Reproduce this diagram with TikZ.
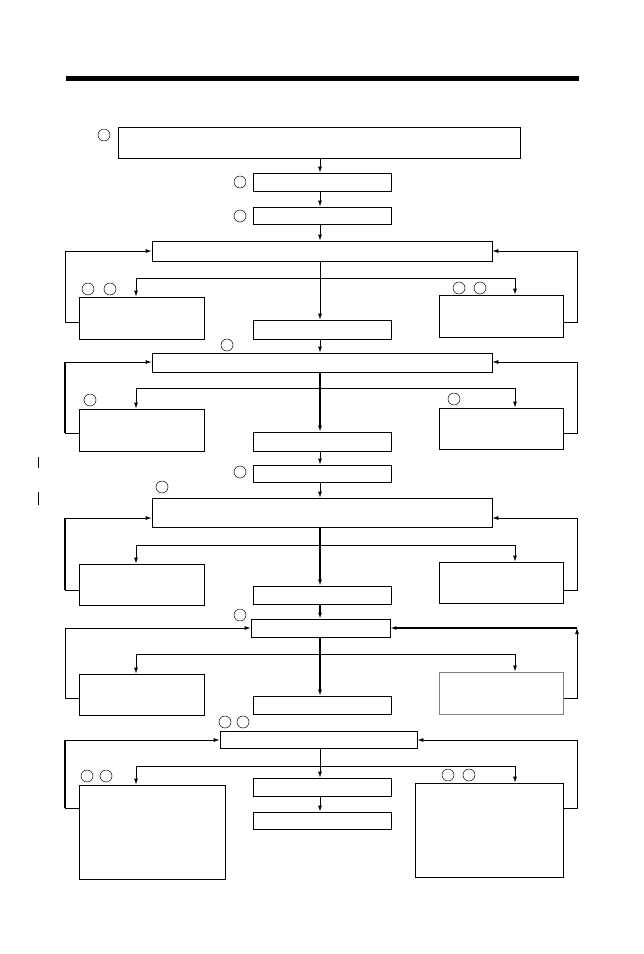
\documentclass[tikz,border=0pt]{standalone}
\usetikzlibrary{arrows.meta}
\begin{document}
\begin{tikzpicture}[x=1pt,y=-1pt,
 bx/.style={draw,line width=0.8pt},
 cr/.style={draw,line width=0.5pt,circle,minimum size=12pt,inner sep=0pt},
 ar/.style={-{Latex[length=6pt,width=4pt]},line width=0.8pt},
 thk/.style={line width=1.8pt}]
\useasboundingbox (0,0) rectangle (644,954);
\fill (66,76) rectangle (579,81);
\draw[line width=0.8pt] (38,457)--(38,468) (38,492)--(38,505);
% boxes
\node[bx,minimum width=402pt,minimum height=31pt] (A) at (319,142.5) {};
\node[cr] (cA) at (104,135) {};
\node[bx,minimum width=138pt,minimum height=18pt] (B) at (322,182) {};
\node[cr] (cB) at (240,182) {};
\node[bx,minimum width=138pt,minimum height=17pt] (C) at (322,215.5) {};
\node[cr] (cC) at (240,216) {};
\node[bx,minimum width=340pt,minimum height=20pt] (D1) at (322,251) {};
\node[bx,minimum width=125pt,minimum height=42pt] (L1) at (141.5,318) {};
\node[bx,minimum width=124pt,minimum height=42pt] (R1) at (501,316) {};
\node[bx,minimum width=138pt,minimum height=19pt] (M1) at (322,329.5) {};
\node[cr] at (88,289) {};\node[cr] at (110,289) {};
\node[cr] at (459,288) {};\node[cr] at (480,288) {};
\node[cr] at (227,345) {};
\node[bx,minimum width=340pt,minimum height=19pt] (D2) at (322,362.5) {};
\node[bx,minimum width=125pt,minimum height=42pt] (L2) at (141.5,430) {};
\node[bx,minimum width=124pt,minimum height=41pt] (R2) at (501,428.5) {};
\node[bx,minimum width=138pt,minimum height=19pt] (M2) at (322,441.5) {};
\node[cr] at (90,400) {};\node[cr] at (454,399) {};
\node[bx,minimum width=138pt,minimum height=17pt] (M3) at (322,473.5) {};
\node[cr] at (240,472) {};
\node[cr] at (162,487) {};
\node[bx,minimum width=340pt,minimum height=29pt] (D3) at (322,512.5) {};
\node[bx,minimum width=125pt,minimum height=41pt] (L3) at (141.5,584.5) {};
\node[bx,minimum width=124pt,minimum height=41pt] (R3) at (501,582.5) {};
\node[bx,minimum width=138pt,minimum height=18pt] (M4) at (322,595) {};
\node[bx,minimum width=139pt,minimum height=18pt] (D4) at (320.5,628) {};
\node[cr] at (240,615) {};
\node[bx,minimum width=125pt,minimum height=41pt] (L4) at (141.5,694.5) {};
\node[draw=gray,line width=1pt,minimum width=124pt,minimum height=42pt] (R4) at (501,693) {};
\node[bx,minimum width=138pt,minimum height=18pt] (M5) at (322,705) {};
\node[cr] at (225,722) {};\node[cr] at (243,722) {};
\node[bx,minimum width=197pt,minimum height=17pt] (D5) at (318.5,739.5) {};
\node[bx,minimum width=146pt,minimum height=94pt] (L5) at (152,832) {};
\node[bx,minimum width=148pt,minimum height=94pt] (R5) at (489,830) {};
\node[bx,minimum width=138pt,minimum height=18pt] (M6) at (322,787) {};
\node[bx,minimum width=138pt,minimum height=17pt] (M7) at (322,820.5) {};
\node[cr] at (87,776) {};\node[cr] at (106,776) {};
\node[cr] at (448,775) {};\node[cr] at (469,775) {};
% vertical chain
\draw[ar] (A.south -| 320,0) -- (B.north -| 320,0);
\draw[ar] (B.south -| 320,0) -- (C.north -| 320,0);
\draw[ar] (C.south -| 320,0) -- (D1.north -| 320,0);
\draw[ar] (M1.south -| 320,0) -- (D2.north -| 320,0);
\draw[ar] (M2.south -| 320,0) -- (M3.north -| 320,0);
\draw[ar] (M3.south -| 320,0) -- (D3.north -| 320,0);
\draw[ar,thk] (M4.south -| 320,0) -- (D4.north -| 320,0);
\draw[ar] (M6.south -| 320,0) -- (M7.north -| 320,0);
% level 1
\coordinate (j1) at (320,278);
\draw[ar] (D1.south -| 320,0) -- (M1.north -| 320,0);
\draw[ar] (136,278) -- (L1.north -| 136,0);
\draw[ar] (515,278) -- (R1.north -| 515,0);
\draw[line width=0.8pt] (136,278)--(515,278);
\draw[ar] (L1.west |- 0,322) -| (65,251) -- (D1.west |- 0,251);
\draw[ar] (R1.east |- 0,322) -| (577,251) -- (D1.east |- 0,251);
% level 2
\draw[ar,thk] (D2.south -| 320,0) -- (M2.north -| 320,0);
\draw[line width=0.8pt] (136,388)--(515,388);
\draw[ar] (136,388) -- (L2.north -| 136,0);
\draw[ar] (515,388) -- (R2.north -| 515,0);
\draw[ar] (L2.west |- 0,433) -| (65,362) -- (D2.west |- 0,362);
\draw[ar] (R2.east |- 0,433) -| (577,362) -- (D2.east |- 0,362);
\draw[thk] (65,362)--(65,433);
% level 3
\draw[ar,thk] (D3.south -| 320,0) -- (M4.north -| 320,0);
\draw[line width=0.8pt] (136,545)--(515,545);
\draw[ar] (136,545) -- (L3.north -| 136,0);
\draw[ar] (515,545) -- (R3.north -| 515,0);
\draw[ar] (L3.west |- 0,590) -| (65,518) -- (D3.west |- 0,518);
\draw[ar] (R3.east |- 0,590) -| (577,518) -- (D3.east |- 0,518);
\draw[thk] (65,518)--(65,590);
% level 4
\draw[ar,thk] (D4.south -| 320,0) -- (M5.north -| 320,0);
\draw[line width=0.8pt] (136,654)--(515,654);
\draw[ar] (136,654) -- (L4.north -| 136,0);
\draw[ar] (515,654) -- (R4.north -| 515,0);
\draw[ar] (L4.west |- 0,698) -| (65,628) -- (D4.west |- 0,628);
\draw[ar] (R4.east |- 0,698) -| (577,628);
\draw[ar,thk] (577,628) -- (D4.east |- 0,628);
% level 5
\draw[ar] (D5.south -| 320,0) -- (M6.north -| 320,0);
\draw[line width=0.8pt] (136,766)--(515,766);
\draw[ar] (136,766) -- (L5.north -| 136,0);
\draw[ar] (515,766) -- (R5.north -| 515,0);
\draw[ar] (L5.west |- 0,808) -| (65,740) -- (D5.west |- 0,740);
\draw[ar] (R5.east |- 0,808) -| (577,740) -- (D5.east |- 0,740);
\draw[thk] (65,740)--(65,808);
\end{tikzpicture}
\end{document}
